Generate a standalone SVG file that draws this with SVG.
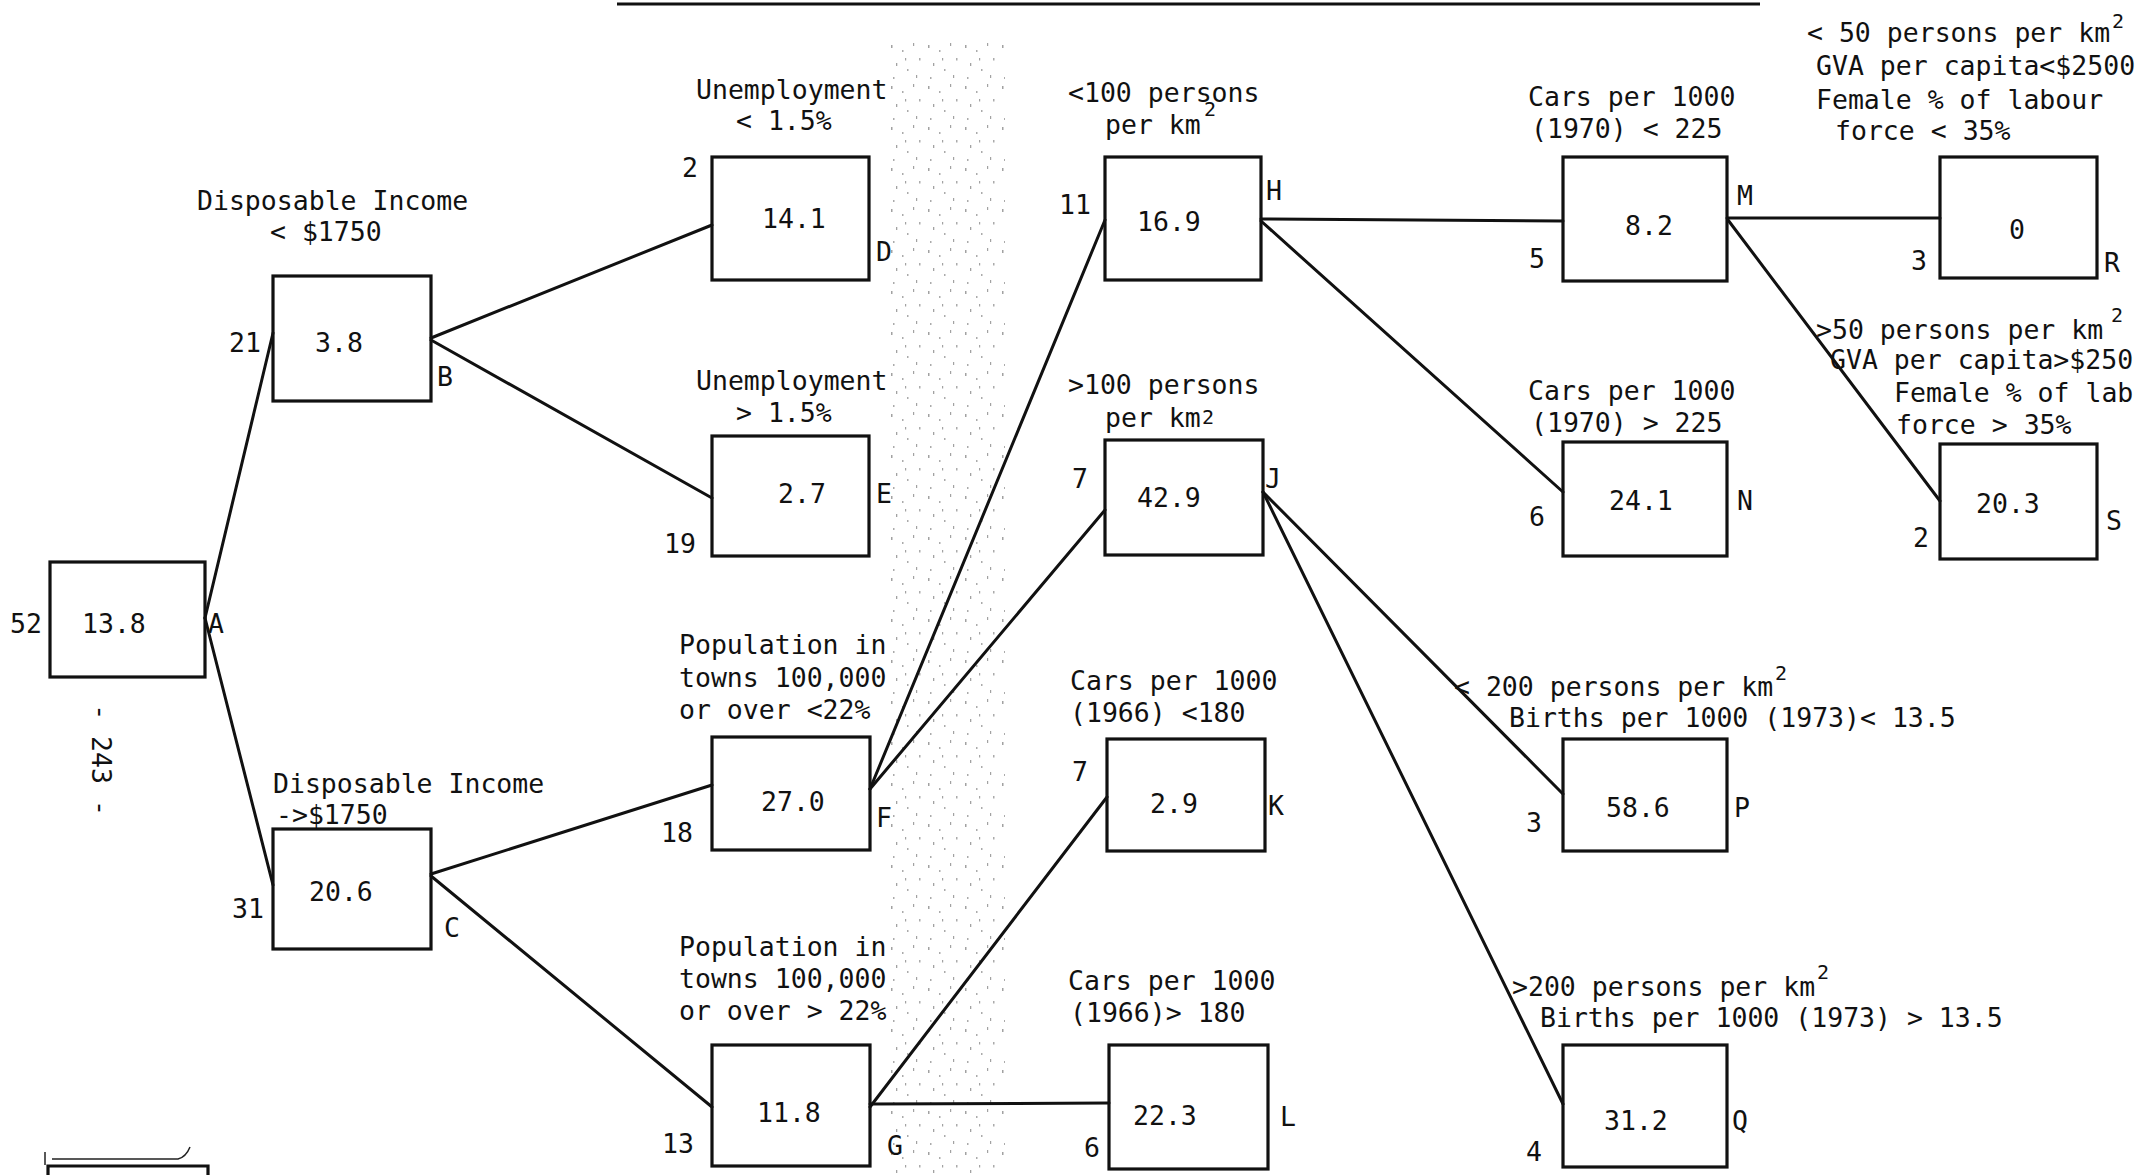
<svg xmlns="http://www.w3.org/2000/svg" width="2135" height="1175" viewBox="0 0 2135 1175">
<style>
  text { font-family: "DejaVu Sans Mono", "Liberation Mono", monospace; font-size: 26.5px; fill: #111; }
  .sup { font-size: 20px; }
  .box { fill: none; stroke: #111; stroke-width: 3.2; }
  .edge { stroke: #111; stroke-width: 3; fill: none; stroke-linecap: round; }
</style>
<defs>
  <pattern id="speck" width="37" height="41" patternUnits="userSpaceOnUse">
    <rect x="3" y="4" width="1.5" height="3" fill="#555"/>
    <rect x="14" y="9" width="1.5" height="2" fill="#666"/>
    <rect x="25" y="2" width="1.2" height="3" fill="#555"/>
    <rect x="31" y="17" width="1.5" height="2.5" fill="#666"/>
    <rect x="8" y="22" width="1.3" height="3" fill="#555"/>
    <rect x="19" y="28" width="1.5" height="2" fill="#666"/>
    <rect x="28" y="34" width="1.2" height="3" fill="#555"/>
    <rect x="5" y="36" width="1.5" height="2" fill="#666"/>
    <rect x="17" y="17" width="1.2" height="2.5" fill="#555"/>
  </pattern>
</defs>
<rect width="2135" height="1175" fill="#fff"/>
<rect x="885" y="40" width="120" height="1135" fill="url(#speck)" opacity="0.55"/>

<!-- title underline (cut title) -->
<line x1="617" y1="4" x2="1760" y2="4" stroke="#111" stroke-width="3"/>

<!-- page number -->
<text x="92" y="760" text-anchor="middle" transform="rotate(90 92 760)">- 243 -</text>

<!-- bottom-left partial box -->
<g id="partial">
  <path d="M48 1175 V1166 H208 V1175" class="box"/>
  <path d="M52 1159 H178 Q186 1157 190 1147" fill="none" stroke="#222" stroke-width="1.5"/>
  <line x1="45" y1="1152" x2="45" y2="1165" stroke="#222" stroke-width="1.5"/>
</g>

<g id="connectors">
  <line class="edge" x1="205" y1="618" x2="273" y2="333"/>
  <line class="edge" x1="205" y1="618" x2="273" y2="885"/>
  <line class="edge" x1="431" y1="338" x2="712" y2="225"/>
  <line class="edge" x1="431" y1="340" x2="712" y2="498"/>
  <line class="edge" x1="431" y1="874" x2="712" y2="785"/>
  <line class="edge" x1="431" y1="876" x2="712" y2="1107"/>
  <line class="edge" x1="870" y1="789" x2="1105" y2="220"/>
  <line class="edge" x1="870" y1="789" x2="1105" y2="510"/>
  <line class="edge" x1="870" y1="1107" x2="1107" y2="797"/>
  <line class="edge" x1="870" y1="1104" x2="1109" y2="1103"/>
  <line class="edge" x1="1261" y1="219" x2="1563" y2="221"/>
  <line class="edge" x1="1261" y1="221" x2="1563" y2="492"/>
  <line class="edge" x1="1263" y1="492" x2="1563" y2="794"/>
  <line class="edge" x1="1263" y1="492" x2="1563" y2="1104"/>
  <line class="edge" x1="1727" y1="218" x2="1940" y2="218"/>
  <line class="edge" x1="1728" y1="220" x2="1940" y2="501"/>
</g>

<g id="node-A">
  <rect class="box" x="50" y="562" width="155" height="115"/>
  <text x="10" y="633">52</text><text x="82" y="633">13.8</text><text x="208" y="633">A</text>
</g>
<g id="node-B">
  <rect class="box" x="273" y="276" width="158" height="125"/>
  <text x="197" y="210">Disposable Income</text><text x="270" y="241">&lt; $1750</text>
  <text x="229" y="352">21</text><text x="315" y="352">3.8</text><text x="437" y="386">B</text>
</g>
<g id="node-C">
  <rect class="box" x="273" y="829" width="158" height="120"/>
  <text x="273" y="793">Disposable Income</text><text x="276" y="824">-&gt;$1750</text>
  <text x="232" y="918">31</text><text x="309" y="901">20.6</text><text x="444" y="937">C</text>
</g>
<g id="node-D">
  <rect class="box" x="712" y="157" width="157" height="123"/>
  <text x="696" y="99">Unemployment</text><text x="736" y="130">&lt; 1.5%</text>
  <text x="682" y="177">2</text><text x="762" y="228">14.1</text><text x="876" y="261">D</text>
</g>
<g id="node-E">
  <rect class="box" x="712" y="436" width="157" height="120"/>
  <text x="696" y="390">Unemployment</text><text x="736" y="422">&gt; 1.5%</text>
  <text x="664" y="553">19</text><text x="778" y="503">2.7</text><text x="876" y="503">E</text>
</g>
<g id="node-F">
  <rect class="box" x="712" y="737" width="158" height="113"/>
  <text x="679" y="654">Population in</text><text x="679" y="687">towns 100,000</text><text x="679" y="719">or over &lt;22%</text>
  <text x="661" y="842">18</text><text x="761" y="811">27.0</text><text x="876" y="827">F</text>
</g>
<g id="node-G">
  <rect class="box" x="712" y="1045" width="158" height="121"/>
  <text x="679" y="956">Population in</text><text x="679" y="988">towns 100,000</text><text x="679" y="1020">or over &gt; 22%</text>
  <text x="662" y="1153">13</text><text x="757" y="1122">11.8</text><text x="887" y="1155">G</text>
</g>
<g id="node-H">
  <rect class="box" x="1105" y="157" width="156" height="123"/>
  <text x="1068" y="102">&lt;100 persons</text><text x="1105" y="134">per km</text><text class="sup" x="1204" y="116">2</text>
  <text x="1059" y="214">11</text><text x="1137" y="231">16.9</text><text x="1266" y="200">H</text>
</g>
<g id="node-J">
  <rect class="box" x="1105" y="440" width="158" height="115"/>
  <text x="1068" y="394">&gt;100 persons</text><text x="1105" y="427">per km</text><text class="sup" x="1202" y="424">2</text>
  <text x="1072" y="488">7</text><text x="1137" y="507">42.9</text><text x="1265" y="488">J</text>
</g>
<g id="node-K">
  <rect class="box" x="1107" y="739" width="158" height="112"/>
  <text x="1070" y="690">Cars per 1000</text><text x="1070" y="722">(1966) &lt;180</text>
  <text x="1072" y="781">7</text><text x="1150" y="813">2.9</text><text x="1268" y="815">K</text>
</g>
<g id="node-L">
  <rect class="box" x="1109" y="1045" width="159" height="124"/>
  <text x="1068" y="990">Cars per 1000</text><text x="1070" y="1022">(1966)&gt; 180</text>
  <text x="1084" y="1157">6</text><text x="1133" y="1125">22.3</text><text x="1280" y="1126">L</text>
</g>
<g id="node-M">
  <rect class="box" x="1563" y="157" width="164" height="124"/>
  <text x="1528" y="106">Cars per 1000</text><text x="1531" y="138">(1970) &lt; 225</text>
  <text x="1529" y="268">5</text><text x="1625" y="235">8.2</text><text x="1737" y="205">M</text>
</g>
<g id="node-N">
  <rect class="box" x="1563" y="442" width="164" height="114"/>
  <text x="1528" y="400">Cars per 1000</text><text x="1531" y="432">(1970) &gt; 225</text>
  <text x="1529" y="526">6</text><text x="1609" y="510">24.1</text><text x="1737" y="510">N</text>
</g>
<g id="node-P">
  <rect class="box" x="1563" y="739" width="164" height="112"/>
  <text x="1454" y="696">&lt; 200 persons per km</text><text class="sup" x="1775" y="680">2</text>
  <text x="1509" y="727">Births  per 1000 (1973)&lt; 13.5</text>
  <text x="1526" y="832">3</text><text x="1606" y="817">58.6</text><text x="1734" y="817">P</text>
</g>
<g id="node-Q">
  <rect class="box" x="1563" y="1045" width="164" height="122"/>
  <text x="1512" y="996">&gt;200 persons per km</text><text class="sup" x="1817" y="979">2</text>
  <text x="1540" y="1027">Births per 1000 (1973) &gt; 13.5</text>
  <text x="1526" y="1161">4</text><text x="1604" y="1130">31.2</text><text x="1732" y="1130">Q</text>
</g>
<g id="node-R">
  <rect class="box" x="1940" y="157" width="157" height="121"/>
  <text x="1807" y="42">&lt; 50 persons per km</text><text class="sup" x="2112" y="28">2</text>
  <text x="1816" y="75">GVA per capita&lt;$2500</text>
  <text x="1816" y="109">Female % of labour</text>
  <text x="1835" y="140">force &lt; 35%</text>
  <text x="1911" y="270">3</text><text x="2009" y="239">0</text><text x="2104" y="272">R</text>
</g>
<g id="node-S">
  <rect class="box" x="1940" y="444" width="157" height="115"/>
  <text x="1816" y="339">&gt;50 persons per km</text><text class="sup" x="2111" y="322">2</text>
  <text x="1830" y="369">GVA per capita&gt;$250</text>
  <text x="1894" y="402">Female % of lab</text>
  <text x="1896" y="434">force  &gt; 35%</text>
  <text x="1913" y="547">2</text><text x="1976" y="513">20.3</text><text x="2106" y="530">S</text>
</g>
</svg>
